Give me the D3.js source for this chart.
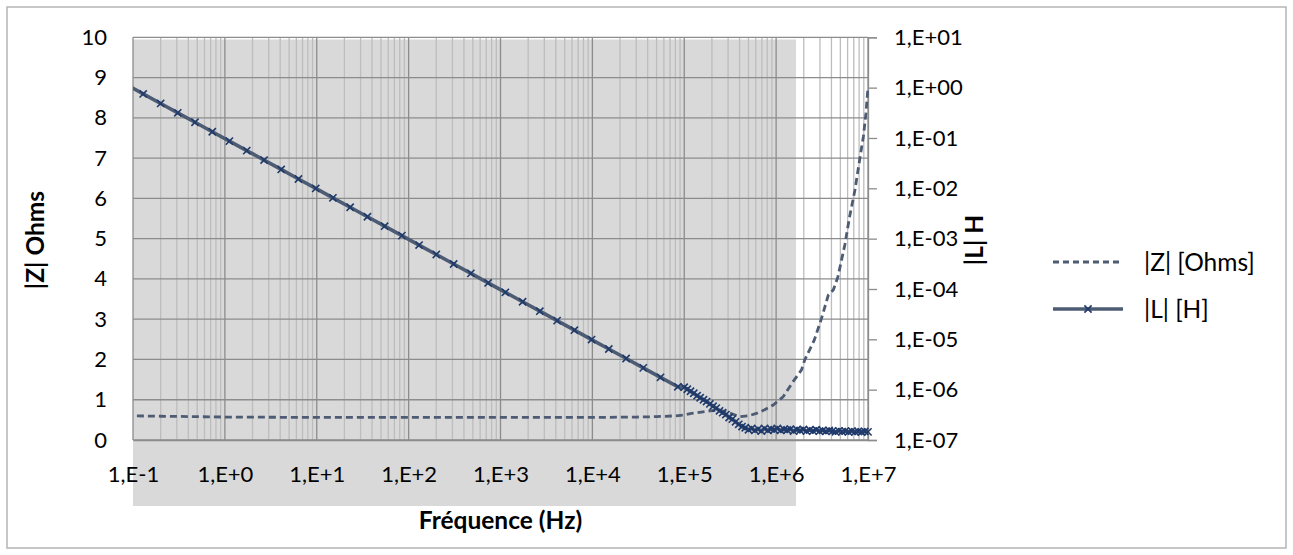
<!DOCTYPE html>
<html><head><meta charset="utf-8">
<script src="https://cdn.jsdelivr.net/npm/d3@7"></script>
<style>
html,body{margin:0;padding:0;background:#fff;}
svg{display:block;font-family:Lato,"Open Sans",sans-serif;}
</style></head>
<body>
<svg id="c" width="1293" height="555"></svg>
<script>
// ---- data ----
const freqL = [0.0837,0.129,0.200,0.307,0.473,0.729,1.12,1.73,2.67,4.10,6.32,9.75,15.0,23.1,35.6,54.8,84.5,130,200,309,476,733,1130,1740,2680,4130,6370,9800,15100,23300,35800,55200,85100,
 100000,108000,117000,127000,138000,149000,162000,175000,190000,206000,223000,242000,262000,284000,308000,334000,362000,392000,425000,461000,
 500000,542000,587000,637000,690000,748000,811000,880000,954000,1030000,1120000,1220000,1320000,1430000,1550000,1680000,1820000,1980000,2140000,2320000,2520000,2730000,2960000,3210000,3480000,3780000,4100000,4440000,4820000,5220000,5660000,6140000,6660000,7220000,7830000,8490000,9210000,10000000];
const valL = [1.16,0.75,0.485,0.316,0.205,0.133,0.0866,0.0561,0.0364,0.0237,0.0153,0.00995,0.00647,0.0042,0.00272,0.00177,0.00115,0.000746,0.000485,0.000314,0.000204,0.000132,8.58e-5,5.57e-5,3.62e-5,2.35e-5,1.52e-5,9.9e-6,6.42e-6,4.16e-6,2.71e-6,1.76e-6,1.14e-6,
 1.12e-6,1.02e-6,9.3e-7,8.5e-7,7.6e-7,6.9e-7,6.3e-7,5.8e-7,5.2e-7,4.7e-7,4.3e-7,3.8e-7,3.5e-7,3.2e-7,2.8e-7,2.6e-7,2.3e-7,2.05e-7,1.85e-7,1.75e-7,
 1.6e-7,1.7e-7,1.55e-7,1.65e-7,1.5e-7,1.7e-7,1.55e-7,1.65e-7,1.6e-7,1.7e-7,1.55e-7,1.62e-7,1.58e-7,1.65e-7,1.5e-7,1.6e-7,1.55e-7,1.62e-7,1.5e-7,1.58e-7,1.52e-7,1.6e-7,1.5e-7,1.55e-7,1.48e-7,1.55e-7,1.5e-7,1.45e-7,1.52e-7,1.47e-7,1.5e-7,1.45e-7,1.5e-7,1.45e-7,1.48e-7,1.44e-7,1.48e-7,1.45e-7];
const freqZ = [0.0837,0.1,0.2,0.5,1,10,100,1000,10000,30000,50000,80000,100000,120000,160000,200000,230000,280000,340000,400000,500000,610000,750000,930000,1190000,1530000,1890000,2050000,2600000,3100000,3700000,4200000,4700000,5600000,6300000,7200000,8200000,8900000,9500000,10000000];
const valZ = [0.61,0.60,0.59,0.58,0.57,0.56,0.56,0.56,0.56,0.57,0.58,0.60,0.62,0.66,0.70,0.73,0.74,0.71,0.64,0.58,0.60,0.66,0.75,0.87,1.07,1.45,1.74,1.99,2.48,3.0,3.6,3.73,4.05,4.85,5.54,6.2,7.03,7.53,8.11,8.77];
const xTickVals = [0.1,1,10,100,1000,10000,100000,1000000,10000000];
const xTickLabels = ["1,E-1","1,E+0","1,E+1","1,E+2","1,E+3","1,E+4","1,E+5","1,E+6","1,E+7"];
const yLeftTicks = [0,1,2,3,4,5,6,7,8,9,10];
const yRightTicks = [1e-7,1e-6,1e-5,1e-4,1e-3,1e-2,1e-1,1,10];
const yRightLabels = ["1,E-07","1,E-06","1,E-05","1,E-04","1,E-03","1,E-02","1,E-01","1,E+00","1,E+01"];
const seriesNames = ["|Z| [Ohms]","|L| [H]"];
const titles = {x:"Fréquence (Hz)", yLeft:"|Z| Ohms", yRight:"|L| H"};

// ---- layout ----
const svg = d3.select("#c");
const L = 133, R = 868, T = 37.3, B = 440;
const x = d3.scaleLog().domain([0.1,1e7]).range([L,R]);
const yL = d3.scaleLinear().domain([0,10]).range([B,T]);
const yR = d3.scaleLog().domain([1e-7,10]).range([B,T]);
const lineCol = "#4d5b73", markCol = "#1f3a6b";

// outer border
svg.append("rect").attr("x",7).attr("y",7).attr("width",1279).attr("height",541)
  .attr("fill","#fff").attr("stroke","#b5b5b5").attr("stroke-width",1.5);

// grey plot fill (offset as in reference)
svg.append("rect").attr("x",L).attr("y",39.5).attr("width",796-L).attr("height",506-39.5).attr("fill","#d9d9d9");

// vertical gridlines
const grid = svg.append("g");
const minor = [], major = [];
for (let d=-1; d<7; d++){ for (let m=1;m<10;m++){ const v=m*Math.pow(10,d); (m===1?major:minor).push(v);} }
major.push(1e7);
grid.selectAll(".vmin").data(minor).join("line")
  .attr("x1",d=>x(d)).attr("x2",d=>x(d)).attr("y1",T).attr("y2",B)
  .attr("stroke","#bdbdbd").attr("stroke-width",1.3);
grid.selectAll(".vmaj").data(major).join("line")
  .attr("x1",d=>x(d)).attr("x2",d=>x(d)).attr("y1",T).attr("y2",B)
  .attr("stroke","#8c8c8c").attr("stroke-width",1.3);
grid.selectAll(".h").data(yLeftTicks).join("line")
  .attr("x1",L).attr("x2",R).attr("y1",d=>yL(d)).attr("y2",d=>yL(d))
  .attr("stroke","#8c8c8c").attr("stroke-width",1.3);

// axes
const fs = "22px", fsT = "24.5px";
const ax = svg.append("g").attr("transform",`translate(0,${B})`)
  .call(d3.axisBottom(x).tickValues(xTickVals).tickFormat((d,i)=>xTickLabels[i]).tickSize(0).tickPadding(26));
ax.select(".domain").attr("stroke","#8c8c8c").attr("stroke-width",1.3);
const ayl = svg.append("g").attr("transform",`translate(${L},0)`)
  .call(d3.axisLeft(yL).tickValues(yLeftTicks).tickFormat(d3.format("d")).tickSize(0).tickPadding(26));
ayl.select(".domain").remove();
const ayr = svg.append("g").attr("transform",`translate(${R},0)`)
  .call(d3.axisRight(yR).tickValues(yRightTicks).tickFormat((d,i)=>yRightLabels[i]).tickSize(9).tickPadding(17));
ayr.select(".domain").attr("stroke","#8c8c8c").attr("stroke-width",1.3);
ayr.selectAll(".tick line").attr("stroke","#8c8c8c").attr("stroke-width",1.3);
svg.selectAll(".tick text").attr("font-size",fs).attr("fill","#000").attr("font-family","Lato");

// clip
svg.append("clipPath").attr("id","pc").append("rect").attr("x",L).attr("y",T-2).attr("width",R-L+2).attr("height",B-T+4);

// Z series (left axis, dashed)
const zPts = freqZ.map((f,i)=>[f,valZ[i]]);
svg.append("path").attr("clip-path","url(#pc)").datum(zPts)
  .attr("d",d3.line().x(d=>x(d[0])).y(d=>yL(d[1])))
  .attr("fill","none").attr("stroke",lineCol).attr("stroke-width",2.8).attr("stroke-dasharray","7,4");

// L series (right axis, solid + x markers)
const lPts = freqL.map((f,i)=>[f,valL[i]]);
svg.append("path").attr("clip-path","url(#pc)").datum(lPts)
  .attr("d",d3.line().x(d=>x(d[0])).y(d=>yR(d[1])))
  .attr("fill","none").attr("stroke",lineCol).attr("stroke-width",3.6);
const s = 3.6;
const mk = svg.append("g");
mk.selectAll("path").data(lPts.filter(d=>d[0]>=0.1)).join("path")
  .attr("d",d=>{const cx=x(d[0]),cy=yR(d[1]);return `M${cx-s},${cy-s}L${cx+s},${cy+s}M${cx-s},${cy+s}L${cx+s},${cy-s}`;})
  .attr("stroke",markCol).attr("stroke-width",1.6).attr("fill","none");

// axis titles
svg.append("text").attr("x",(L+R)/2).attr("y",529).attr("text-anchor","middle")
  .attr("font-size",fsT).attr("font-weight","bold").text(titles.x);
svg.append("text").attr("transform","translate(44,240) rotate(-90)").attr("text-anchor","middle")
  .attr("font-size",fsT).attr("font-weight","bold").text(titles.yLeft);
svg.append("text").attr("transform","translate(983,240) rotate(-90)").attr("text-anchor","middle")
  .attr("font-size",fsT).attr("font-weight","bold").text(titles.yRight);

// legend
const lg = svg.append("g");
lg.append("line").attr("x1",1053).attr("x2",1123).attr("y1",262).attr("y2",262)
  .attr("stroke",lineCol).attr("stroke-width",2.8).attr("stroke-dasharray","6,4");
lg.append("text").attr("x",1144).attr("y",271).attr("font-size",fsT).text(seriesNames[0]);
lg.append("line").attr("x1",1053).attr("x2",1123).attr("y1",309).attr("y2",309)
  .attr("stroke",lineCol).attr("stroke-width",3.6);
lg.append("path").attr("d",`M${1088-s},${309-s}L${1088+s},${309+s}M${1088-s},${309+s}L${1088+s},${309-s}`)
  .attr("stroke",markCol).attr("stroke-width",1.6);
lg.append("text").attr("x",1144).attr("y",318).attr("font-size",fsT).text(seriesNames[1]);
</script>
</body></html>
